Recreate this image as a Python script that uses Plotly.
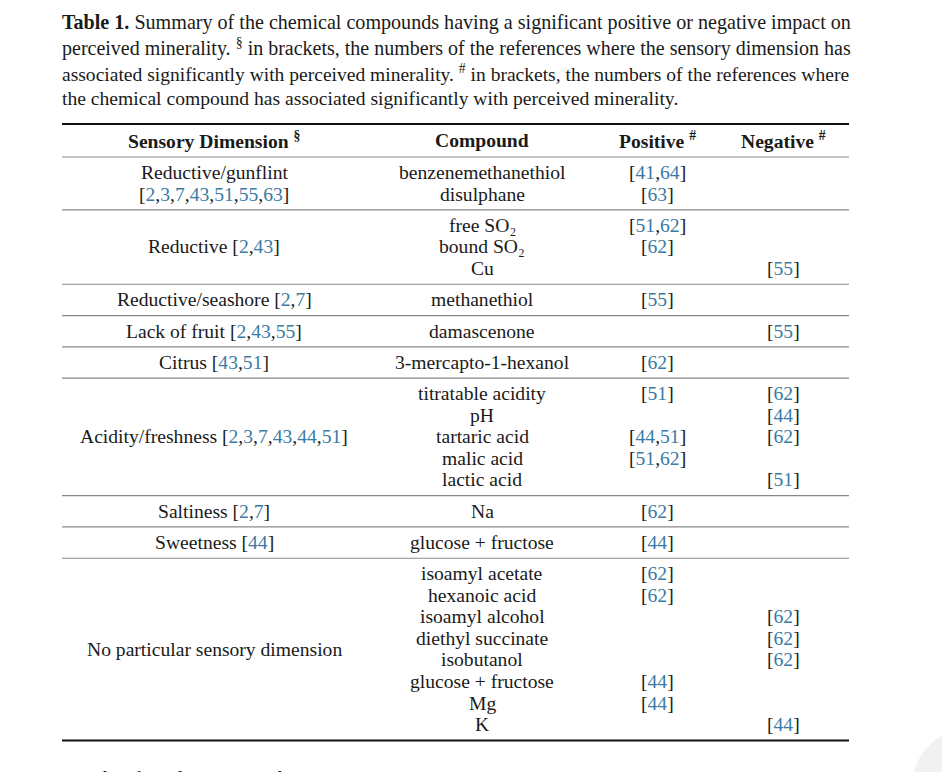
import plotly.graph_objects as go

# ---------------- data ----------------
title_lines = [
    "<b>Table 1.</b> Summary of the chemical compounds having a significant positive or negative impact on",
    "perceived minerality. <sup>§</sup> in brackets, the numbers of the references where the sensory dimension has",
    "associated significantly with perceived minerality. <sup>#</sup> in brackets, the numbers of the references where",
    "the chemical compound has associated significantly with perceived minerality.",
]
headers = ["Sensory Dimension <sup>§</sup>", "Compound", "Positive <sup>#</sup>", "Negative <sup>#</sup>"]

dimensions = ["Reductive/gunflint", "Reductive", "Reductive/seashore", "Lack of fruit", "Citrus",
              "Acidity/freshness", "Saltiness", "Sweetness", "No particular sensory dimension"]
dimension_refs = [[2, 3, 7, 43, 51, 55, 63], [2, 43], [2, 7], [2, 43, 55], [43, 51],
                  [2, 3, 7, 43, 44, 51], [2, 7], [44], []]
dimension_wrap = [True, False, False, False, False, False, False, False, False]

compounds = [
    ["benzenemethanethiol", "disulphane"],
    ["free SO₂", "bound SO₂", "Cu"],
    ["methanethiol"],
    ["damascenone"],
    ["3-mercapto-1-hexanol"],
    ["titratable acidity", "pH", "tartaric acid", "malic acid", "lactic acid"],
    ["Na"],
    ["glucose + fructose"],
    ["isoamyl acetate", "hexanoic acid", "isoamyl alcohol", "diethyl succinate", "isobutanol",
     "glucose + fructose", "Mg", "K"],
]
positive_refs = [
    [[41, 64], [63]],
    [[51, 62], [62], []],
    [[55]],
    [[]],
    [[62]],
    [[51], [], [44, 51], [51, 62], []],
    [[62]],
    [[44]],
    [[62], [62], [], [], [], [44], [44], []],
]
negative_refs = [
    [[], []],
    [[], [], [55]],
    [[]],
    [[55]],
    [[]],
    [[62], [44], [62], [], [51]],
    [[]],
    [[]],
    [[], [], [62], [62], [62], [], [], [44]],
]
next_heading = "5.2.2. Reductive Flavours and SO₂"

# ---------------- style ----------------
FONT = "Liberation Serif"
FS = 19.6
TITLE_FS = [20.1, 20.0, 19.55, 19.6]
BLUE = "#3a7aa5"
TXT = "#1a1a1a"
X_LEFT, X_RIGHT = 62, 849
COL_X = [214, 482, 657, 783]
Y_TOP_RULE = 124
Y_HEADER = 140
Y_HEAD_RULE = 157
PITCH = 21.55
GAP = 15.45
TITLE_Y0, TITLE_DY = 22, 25.4
PAGE_OFFSET = 8  # browser body margin


def refs_html(refs):
    if not refs:
        return ""
    return "[" + ",".join(f"<span style='color:{BLUE}'>{r}</span>" for r in refs) + "]"


fig = go.Figure()
ann = []
shapes = []


def text(x, y, s, anchor="center", size=FS, family=FONT, color=TXT):
    ann.append(dict(x=x, y=y, xref="x", yref="y", text=s, showarrow=False,
                    xanchor=anchor, yanchor="middle", borderpad=0,
                    font=dict(family=family, size=size, color=color)))


def rule(y, width, color):
    shapes.append(dict(type="line", xref="x", yref="y", x0=X_LEFT, x1=X_RIGHT, y0=y, y1=y,
                       line=dict(color=color, width=width)))


for i, line in enumerate(title_lines):
    text(X_LEFT - 1, TITLE_Y0 + i * TITLE_DY, line, anchor="left", size=TITLE_FS[i])

rule(Y_TOP_RULE, 2, "#111111")
for x, h in zip(COL_X, headers):
    text(x, Y_HEADER, f"<b>{h}</b>")
rule(Y_HEAD_RULE, 1.2, "#8a8a8a")

y = Y_HEAD_RULE
for g in range(len(dimensions)):
    first = y + GAP
    n = len(compounds[g])
    rows = [first + k * PITCH for k in range(n)]
    label_refs = refs_html(dimension_refs[g])
    if dimension_wrap[g]:
        text(COL_X[0], rows[0], dimensions[g])
        text(COL_X[0], rows[1], label_refs)
    else:
        lab = dimensions[g] + (" " + label_refs if label_refs else "")
        text(COL_X[0], (rows[0] + rows[-1]) / 2, lab)
    for k in range(n):
        text(COL_X[1], rows[k], compounds[g][k])
        if positive_refs[g][k]:
            text(COL_X[2], rows[k], refs_html(positive_refs[g][k]))
        if negative_refs[g][k]:
            text(COL_X[3], rows[k], refs_html(negative_refs[g][k]))
    y = rows[-1] + GAP + 0.4
    if g < len(dimensions) - 1:
        rule(y, 1.2, "#8a8a8a")
    else:
        rule(y, 2, "#111111")

# next section heading, cut off by the page edge (as in the reference)
text(22, 778, f"<b>{next_heading}</b>", anchor="left", size=18, family="Noto Sans", color="#222222")

# page-corner decoration
shapes.append(dict(type="circle", xref="x", yref="y", x0=911, x1=1039, y0=726, y1=854,
                   fillcolor="#f1f1f1", line=dict(width=0), layer="below"))

fig.update_layout(
    width=950, height=772,
    margin=dict(l=0, r=0, t=0, b=0),
    paper_bgcolor="white", plot_bgcolor="white",
    xaxis=dict(range=[PAGE_OFFSET, 950 + PAGE_OFFSET], visible=False, fixedrange=True),
    yaxis=dict(range=[772 + PAGE_OFFSET, PAGE_OFFSET], visible=False, fixedrange=True),
    annotations=ann, shapes=shapes, showlegend=False,
)
fig.write_html("out.html")
